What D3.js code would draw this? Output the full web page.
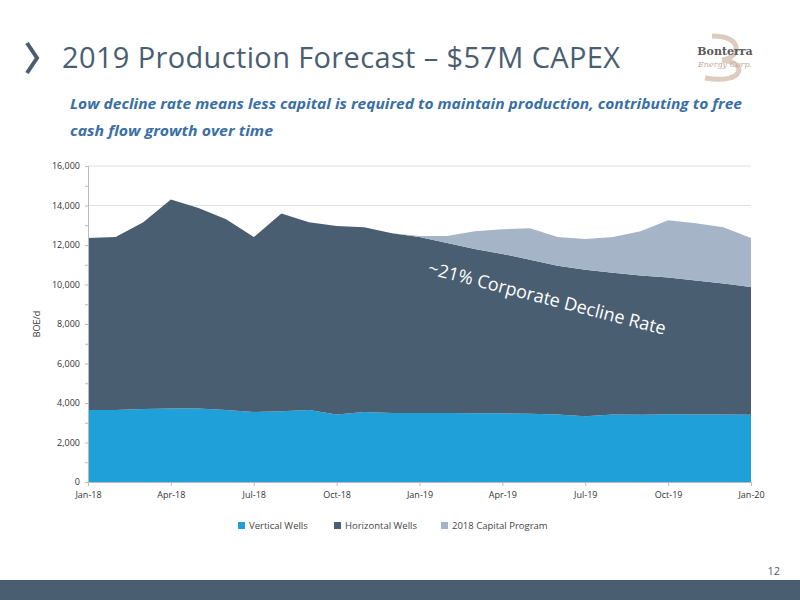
<!DOCTYPE html>
<html><head><meta charset="utf-8">
<script src="https://cdn.jsdelivr.net/npm/d3@7"></script>
<style>body{margin:0;background:#fff}svg{display:block}</style>
</head><body><svg id="c" width="800" height="600"></svg>
<script>
const months = ['Jan-18','Feb-18','Mar-18','Apr-18','May-18','Jun-18','Jul-18','Aug-18','Sep-18','Oct-18','Nov-18','Dec-18',
  'Jan-19','Feb-19','Mar-19','Apr-19','May-19','Jun-19','Jul-19','Aug-19','Sep-19','Oct-19','Nov-19','Dec-19','Jan-20'];
const vertical = [3650,3650,3700,3720,3720,3650,3550,3580,3650,3420,3550,3500,3500,3500,3480,3480,3450,3420,3330,3420,3400,3430,3420,3420,3400];
// total of vertical + horizontal
const baseTotal = [12350,12400,13150,14300,13870,13300,12400,13600,13150,12960,12900,12600,12400,12100,11800,11550,11250,10950,10750,10600,10450,10350,10200,10050,9870];
const programTotal = [12350,12400,13150,14300,13870,13300,12400,13600,13150,12960,12900,12600,12450,12450,12700,12800,12850,12400,12300,12400,12700,13250,13100,12900,12350];
const tickLabels = ['Jan-18','Apr-18','Jul-18','Oct-18','Jan-19','Apr-19','Jul-19','Oct-19','Jan-20'];
const seriesNames = ['Vertical Wells','Horizontal Wells','2018 Capital Program'];
const colors = ['#1fa0d8','#4a5e72','#a6b4c8'];

const rows = months.map((m,i)=>({m, v:vertical[i], h:baseTotal[i]-vertical[i], p:Math.max(0,programTotal[i]-baseTotal[i])}));
const stack = d3.stack().keys(['v','h','p'])(rows);

const svg = d3.select('#c');
const font = 'Open Sans, sans-serif';
const m = {l:88, r:751, t:166, b:482};
const x = d3.scalePoint().domain(months).range([m.l,m.r]);
const y = d3.scaleLinear().domain([0,16000]).range([m.b,m.t]);

// header
svg.append('path').attr('d','M27,43 L37,58 L27,73').attr('fill','none').attr('stroke','#4a5e72').attr('stroke-width',4);
svg.append('text').attr('x',62).attr('y',68).attr('fill','#4a5e72').attr('font-family',font).attr('font-size',29).attr('textLength',558).text('2019 Production Forecast – $57M CAPEX');
svg.append('path').attr('d','M712,36 C745,36 740,58 722,60 C748,62 745,85 705,78').attr('fill','none').attr('stroke','#ddccc0').attr('stroke-width',5);
svg.append('text').attr('x',725).attr('y',55).attr('text-anchor','middle').attr('fill','#5a5a5a').attr('font-family','DejaVu Serif').attr('font-weight','bold').attr('font-size',11).text('Bonterra');
svg.append('text').attr('x',725).attr('y',67).attr('text-anchor','middle').attr('fill','#c0a898').attr('font-family','DejaVu Serif').attr('font-style','italic').attr('font-size',8).text('Energy Corp.');
const sub = svg.append('g').attr('font-family',font).attr('font-style','italic').attr('font-weight','bold').attr('font-size',14.5).attr('fill','#3a6fa6');
sub.append('text').attr('x',70).attr('y',109).attr('textLength',672).attr('lengthAdjust','spacingAndGlyphs').text('Low decline rate means less capital is required to maintain production, contributing to free');
sub.append('text').attr('x',70).attr('y',136).attr('textLength',203).attr('lengthAdjust','spacingAndGlyphs').text('cash flow growth over time');

// grid
svg.append('g').selectAll('line').data(d3.range(2000,16001,2000)).join('line')
  .attr('x1',m.l).attr('x2',m.r).attr('y1',d=>y(d)).attr('y2',d=>y(d)).attr('stroke','#e0e0e0');

const area = d3.area().x(d=>x(d.data.m)).y0(d=>y(d[0])).y1(d=>y(d[1]));
svg.append('g').selectAll('path').data(stack).join('path').attr('d',area).attr('fill',(d,i)=>colors[i]);

// axes
const ya = svg.append('g').attr('transform',`translate(${m.l},0)`)
  .call(d3.axisLeft(y).tickValues(d3.range(0,16001,2000)).tickFormat(d3.format(',')).tickSize(0).tickPadding(8));
svg.append('g').attr('transform',`translate(${m.l},0)`).call(d3.axisLeft(y).ticks(16).tickFormat('').tickSize(3));
const xa = svg.append('g').attr('transform',`translate(0,${m.b})`)
  .call(d3.axisBottom(x).tickValues(tickLabels).tickSize(4).tickPadding(6));
[ya,xa].forEach(a=>{a.selectAll('text').attr('font-family',font).attr('font-size',9).attr('fill','#333');});
svg.selectAll('.domain,.tick line').attr('stroke','#bbb');

svg.append('text').attr('transform','translate(40,324) rotate(-90)').attr('text-anchor','middle')
  .attr('font-family',font).attr('font-size',9).attr('fill','#333').text('BOE/d');

svg.append('text').attr('transform',`translate(${x('Sep-19')-95},${y(9000)}) rotate(14.5)`).attr('text-anchor','middle')
  .attr('font-family',font).attr('font-size',18).attr('fill','#fff').text('~21% Corporate Decline Rate');

// legend
const lg = svg.append('g').attr('font-family',font).attr('font-size',9.5).attr('fill','#444');
const lx = [238,334,441];
seriesNames.forEach((n,i)=>{
  lg.append('rect').attr('x',lx[i]).attr('y',522).attr('width',7).attr('height',7).attr('fill',colors[i]);
  lg.append('text').attr('x',lx[i]+11).attr('y',529).text(n);
});

svg.append('rect').attr('x',0).attr('y',580).attr('width',800).attr('height',20).attr('fill','#4a5e72');
svg.append('text').attr('x',780).attr('y',575).attr('text-anchor','end').attr('font-family',font).attr('font-size',11).attr('fill','#4a5e72').text('12');
</script></body></html>
